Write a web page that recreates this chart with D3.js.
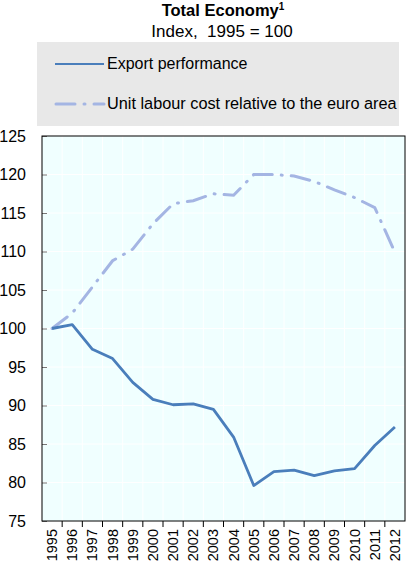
<!DOCTYPE html>
<html><head><meta charset="utf-8">
<script src="https://cdn.jsdelivr.net/npm/d3@7"></script>
<style>body{margin:0;background:#fff;} text{font-family:"Liberation Sans",Arial,sans-serif;}</style>
</head><body><svg id="c" width="407" height="561"></svg>
<script>
const years = [1995,1996,1997,1998,1999,2000,2001,2002,2003,2004,2005,2006,2007,2008,2009,2010,2011,2012];
const exportPerf = [100,100.5,97.3,96.1,93.0,90.8,90.1,90.2,89.5,85.9,79.6,81.4,81.6,80.9,81.5,81.8,84.8,87.2];
const ulcRel = [100,102.0,105.4,108.8,110.3,113.6,116.2,116.6,117.5,117.3,120.0,120.0,119.8,119.1,118.0,117.0,115.7,109.9];
const yTicks = [75,80,85,90,95,100,105,110,115,120,125];
const seriesNames = ["Export performance","Unit labour cost relative to the euro area"];

const svg = d3.select("#c");
const m = {l:42, r:405, t:136, b:521};
const x = d3.scaleBand().domain(years).range([m.l, m.r]);
const y = d3.scaleLinear().domain([75,125]).range([m.b, m.t]);
const dash = "19,9,1,9";

// title
svg.append("text").attr("x",223).attr("y",16).attr("text-anchor","middle")
  .style("font-size","16.5px").style("font-weight","bold")
  .text("Total Economy").append("tspan").attr("dy",-6).style("font-size","10px").text("1");
svg.append("text").attr("x",222).attr("y",37).attr("text-anchor","middle")
  .style("font-size","17px").style("white-space","pre").text("Index,  1995 = 100");

// legend box
svg.append("rect").attr("x",37).attr("y",42).attr("width",362).attr("height",84).attr("fill","#e8e8e8");
svg.append("line").attr("x1",55).attr("x2",104).attr("y1",64).attr("y2",64)
  .attr("stroke","#4a7ebb").attr("stroke-width",2);
svg.append("text").attr("x",107).attr("y",69).style("font-size",  "16px").text(seriesNames[0]);
svg.append("line").attr("x1",56).attr("x2",104).attr("y1",104).attr("y2",104)
  .attr("stroke","#a4b5e3").attr("stroke-width",3).attr("stroke-dasharray",dash).attr("stroke-linecap","round");
svg.append("text").attr("x",107).attr("y",109).style("font-size","16.3px").text(seriesNames[1]);

// plot background
svg.append("rect").attr("x",m.l).attr("y",m.t).attr("width",m.r-m.l).attr("height",m.b-m.t).attr("fill","#f0ffff");
// grid
const g = svg.append("g");
g.selectAll(".gy").data(yTicks.slice(1,-1)).join("line")
  .attr("x1",m.l).attr("x2",m.r).attr("y1",d=>y(d)).attr("y2",d=>y(d))
  .attr("stroke","#ffffff").attr("stroke-width",1);
g.selectAll(".gx").data(years.slice(1)).join("line")
  .attr("x1",d=>x(d)).attr("x2",d=>x(d)).attr("y1",m.t).attr("y2",m.b)
  .attr("stroke","#ffffff").attr("stroke-width",1);

// axes
const yAxis = svg.append("g").attr("transform",`translate(${m.l},0)`)
  .call(d3.axisLeft(y).tickValues(yTicks).tickSize(-5).tickPadding(16));
yAxis.select(".domain").remove();
yAxis.selectAll("line").attr("stroke","#777");
yAxis.selectAll("text").style("font-size","16px").style("font-family","Liberation Sans, Arial").attr("fill","#000");

const xAxisG = svg.append("g").attr("transform",`translate(0,${m.b})`);
xAxisG.selectAll("line").data(years.slice(1)).join("line")
  .attr("x1",d=>x(d)).attr("x2",d=>x(d)).attr("y1",0).attr("y2",6).attr("stroke","#000");
xAxisG.selectAll("text").data(years).join("text")
  .attr("transform",d=>`translate(${x(d)+x.bandwidth()/2+5},${8}) rotate(-90)`)
  .attr("text-anchor","end").style("font-size","14.5px").text(d=>d);

// frame
svg.append("rect").attr("x",m.l).attr("y",m.t).attr("width",m.r-m.l).attr("height",m.b-m.t)
  .attr("fill","none").attr("stroke","#000").attr("stroke-width",1);

const cx = d=>x(d)+x.bandwidth()/2;
const line = d3.line().x((d,i)=>cx(years[i])).y(d=>y(d));
svg.append("path").datum(ulcRel).attr("d",line).attr("fill","none")
  .attr("stroke","#a4b5e3").attr("stroke-width",3).attr("stroke-dasharray",dash).attr("stroke-linecap","round");
svg.append("path").datum(exportPerf).attr("d",line).attr("fill","none")
  .attr("stroke","#4a7ebb").attr("stroke-width",2.8).attr("stroke-linejoin","round");
</script></body></html>
